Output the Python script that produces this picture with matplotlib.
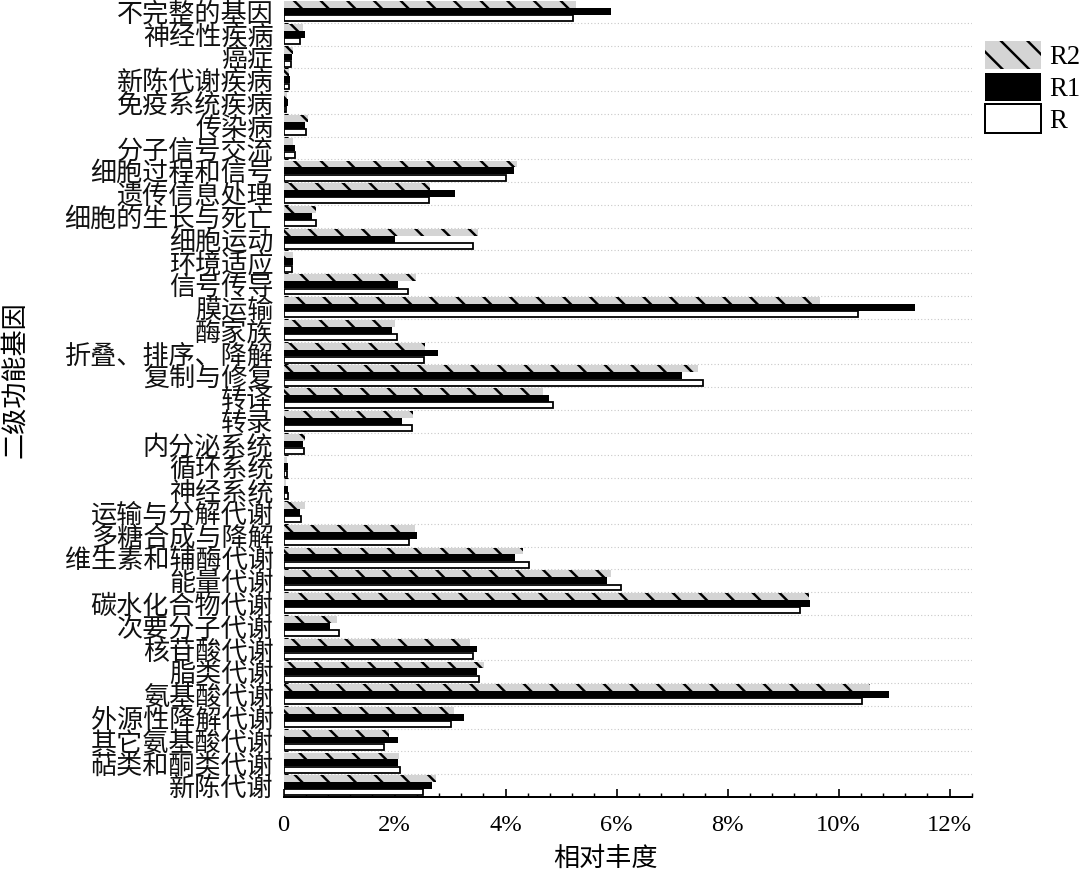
import matplotlib
matplotlib.use("Agg")
import matplotlib.pyplot as plt
import numpy as np
from matplotlib.ticker import FixedLocator, MultipleLocator
from matplotlib.patches import Patch

categories = ["不完整的基因", "神经性疾病", "癌症", "新陈代谢疾病", "免疫系统疾病", "传染病",
              "分子信号交流", "细胞过程和信号", "遗传信息处理", "细胞的生长与死亡", "细胞运动",
              "环境适应", "信号传导", "膜运输", "酶家族", "折叠、排序、降解", "复制与修复",
              "转译", "转录", "内分泌系统", "循环系统", "神经系统", "运输与分解代谢",
              "多糖合成与降解", "维生素和辅酶代谢", "能量代谢", "碳水化合物代谢", "次要分子代谢",
              "核苷酸代谢", "脂类代谢", "氨基酸代谢", "外源性降解代谢", "其它氨基酸代谢",
              "萜类和酮类代谢", "新陈代谢"]

R2 = [5.27, 0.35, 0.17, 0.10, 0.07, 0.44, 0.17, 4.20, 2.64, 0.59, 3.50, 0.17, 2.39, 9.67,
      2.01, 2.55, 7.47, 4.67, 2.34, 0.38, 0.07, 0.04, 0.38, 2.37, 4.32, 5.90, 9.47, 0.96,
      3.36, 3.61, 10.56, 3.08, 1.90, 2.09, 2.74]
R1 = [5.90, 0.38, 0.15, 0.11, 0.09, 0.38, 0.20, 4.15, 3.09, 0.52, 2.01, 0.17, 2.06, 11.37,
      1.95, 2.78, 7.18, 4.78, 2.14, 0.36, 0.09, 0.09, 0.29, 2.40, 4.18, 5.83, 9.49, 0.84,
      3.49, 3.49, 10.91, 3.26, 2.06, 2.07, 2.68]
R = [5.21, 0.30, 0.13, 0.10, 0.05, 0.41, 0.21, 4.00, 2.63, 0.58, 3.41, 0.16, 2.24, 10.35,
     2.04, 2.54, 7.55, 4.85, 2.31, 0.37, 0.06, 0.09, 0.31, 2.26, 4.43, 6.09, 9.31, 1.00,
     3.41, 3.53, 10.43, 3.01, 1.81, 2.10, 2.51]

xticks = [0, 2, 4, 6, 8, 10, 12]
xticklabels = ["0", "2%", "4%", "6%", "8%", "10%", "12%"]
series_names = ["R2", "R1", "R"]

DPI = 80
plt.rcParams['font.family'] = ['Noto Sans CJK SC', 'DejaVu Sans']
plt.rcParams['hatch.linewidth'] = 2.2

fig = plt.figure(figsize=(1080 / DPI, 873 / DPI), dpi=DPI)
ax = fig.add_axes([283.5 / 1080, 76 / 873, (971.7 - 283.5) / 1080, 797 / 873])

y = np.arange(len(categories))
h = 0.3
ax.barh(y - h, R2, height=h, color="#d4d4d4", edgecolor="black", linewidth=0, hatch="\\", zorder=3)
ax.barh(y, R1, height=h, color="black", edgecolor="black", linewidth=0, zorder=3)
ax.barh(y + h, R, height=h - 0.04, color="white", edgecolor="black", linewidth=1.6, zorder=3)

ax.set_xlim(0, 12.4)
ax.set_ylim(len(categories) - 0.5, -0.5)

for s in ["top", "right", "left"]:
    ax.spines[s].set_visible(False)
ax.spines["bottom"].set_linewidth(1.8)

ax.set_yticks(y)
ax.set_yticklabels(categories, fontsize=23.5, color="#111111")
ax.yaxis.set_minor_locator(FixedLocator(np.arange(0.5, len(categories) - 0.5, 1.0)))
ax.tick_params(axis="y", which="major", length=0, pad=9)
ax.tick_params(axis="y", which="minor", direction="in", length=4, width=1.0)
ax.grid(axis="y", which="minor", linestyle=(0, (1, 2)), color="#c8c8c8", linewidth=1.0, zorder=0)

ax.set_xticks(xticks)
ax.set_xticklabels(xticklabels, fontsize=22, family=["Liberation Serif"])
ax.xaxis.set_minor_locator(MultipleLocator(0.4))
ax.tick_params(axis="x", which="major", direction="in", length=7, width=1.5, pad=16)
ax.tick_params(axis="x", which="minor", direction="in", length=4, width=1.3)

fig.text(605 / 1080, 1 - 858 / 873, "相对丰度", fontsize=23.5, ha="center", va="center")
fig.text(15 / 1080, 1 - 380 / 873, "二级功能基因", fontsize=23.5, ha="center", va="center", rotation=90)

handles = [Patch(facecolor="#d4d4d4", edgecolor="black", linewidth=0, hatch="\\"),
           Patch(facecolor="black", edgecolor="black", linewidth=0),
           Patch(facecolor="white", edgecolor="black", linewidth=1.8)]
leg = fig.legend(handles, series_names, loc="upper left", bbox_to_anchor=(985 / 1080, 1 - 41 / 873),
                 frameon=False, handlelength=2.1, handleheight=1.25, labelspacing=0.1,
                 handletextpad=0.3, borderpad=0, borderaxespad=0,
                 prop={"family": "Liberation Serif", "size": 24})

fig.savefig("out.png", dpi=DPI)
